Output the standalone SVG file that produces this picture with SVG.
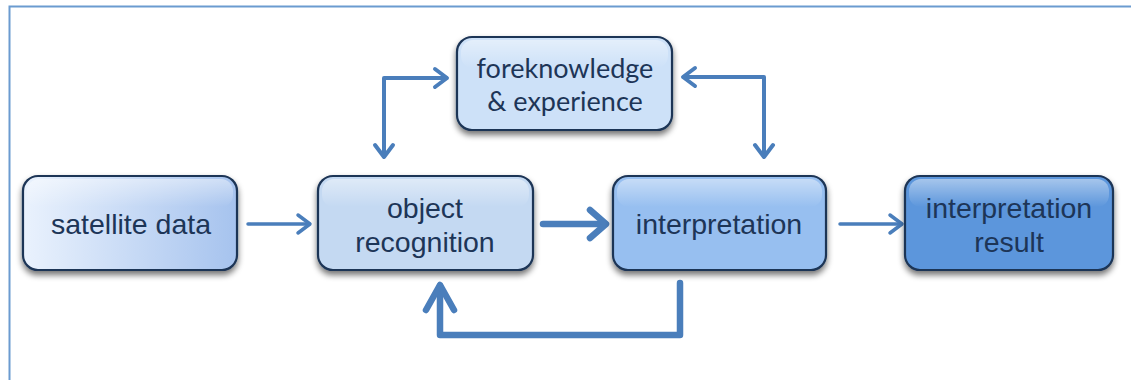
<svg xmlns="http://www.w3.org/2000/svg" width="1131" height="380" viewBox="0 0 1131 380">
  <style>
    .box { stroke: #1e3657; stroke-width: 2.2; filter: url(#shadow); }
    .gloss { fill: url(#gloss); stroke: none; }
    .lbl { font-family: "Liberation Sans", Arial, sans-serif; font-size: 28.5px; fill: #1d3557; text-anchor: middle; }
    .lbl2 { font-family: Lato, "Open Sans", sans-serif; font-size: 27px; fill: #1d3557; text-anchor: middle; }
    .conn { fill: none; stroke: #4a7ebb; stroke-linecap: round; stroke-linejoin: round; }
    .thin { stroke-width: 3.5; }
    .thick { stroke-width: 6.5; }
  </style>
  <defs>
    <filter id="shadow" x="-10%" y="-10%" width="120%" height="135%">
      <feGaussianBlur in="SourceAlpha" stdDeviation="3"/>
      <feOffset dx="0" dy="4" result="b"/>
      <feComponentTransfer><feFuncA type="linear" slope="0.55"/></feComponentTransfer>
      <feMerge><feMergeNode/><feMergeNode in="SourceGraphic"/></feMerge>
    </filter>
    <linearGradient id="satFill" x1="0" y1="0" x2="1" y2="0">
      <stop offset="0" stop-color="#eaf2fd"/>
      <stop offset="1" stop-color="#a6c3ee"/>
    </linearGradient>
    <linearGradient id="gloss" x1="0" y1="0" x2="0" y2="1">
      <stop offset="0" stop-color="#ffffff" stop-opacity="0.45"/>
      <stop offset="1" stop-color="#ffffff" stop-opacity="0"/>
    </linearGradient>
  </defs>

  <!-- outer frame -->
  <rect x="9.5" y="6.5" width="1200" height="420" fill="none" stroke="#6b9bd0" stroke-width="2"/>

  <g id="connectors">
    <!-- satellite data -> object recognition -->
    <path class="conn thin" d="M248 224 H309"/>
    <path class="conn thin" d="M298 215 L310 224 L298 233"/>
    <!-- object recognition -> interpretation -->
    <path class="conn thick" d="M543 224 H604"/>
    <path class="conn thick" d="M590 210 L606 224 L590 238"/>
    <!-- interpretation -> interpretation result -->
    <path class="conn thin" d="M840 224 H901"/>
    <path class="conn thin" d="M890 215 L902 224 L890 233"/>
    <!-- object recognition <-> foreknowledge -->
    <path class="conn" stroke-width="4" d="M384 156 V78 H446"/>
    <path class="conn" stroke-width="4" d="M375 145 L384 157 L393 145"/>
    <path class="conn" stroke-width="4" d="M435 69 L447 78 L435 87"/>
    <!-- foreknowledge <-> interpretation -->
    <path class="conn" stroke-width="4" d="M684 77 H764 V156"/>
    <path class="conn" stroke-width="4" d="M695 68 L683 77 L695 86"/>
    <path class="conn" stroke-width="4" d="M755 145 L764 157 L773 145"/>
    <!-- feedback loop interpretation -> object recognition -->
    <path class="conn thick" d="M680 283 V335 H440 V286"/>
    <path class="conn thick" d="M426 310 L440 285 L454 310"/>
  </g>

  <g id="satellite-data">
    <rect class="box" x="23" y="176" width="214" height="94" rx="15" fill="url(#satFill)"/>
    <rect class="gloss" x="27" y="179" width="206" height="28" rx="12"/>
    <text class="lbl" x="131" y="234">satellite data</text>
  </g>

  <g id="object-recognition">
    <rect class="box" x="318" y="176" width="215" height="94" rx="15" fill="#c4d9f2"/>
    <rect class="gloss" x="322" y="179" width="207" height="28" rx="12"/>
    <text class="lbl" x="425" y="218">object</text>
    <text class="lbl" x="425" y="252">recognition</text>
  </g>

  <g id="foreknowledge">
    <rect class="box" x="457" y="37" width="215" height="93" rx="15" fill="#cde1f8"/>
    <rect class="gloss" x="461" y="40" width="207" height="28" rx="12"/>
    <text class="lbl2" x="565" y="78">foreknowledge</text>
    <text class="lbl2" x="565" y="111">&amp; experience</text>
  </g>

  <g id="interpretation">
    <rect class="box" x="613" y="176" width="213" height="94" rx="15" fill="#97bff0"/>
    <rect class="gloss" x="617" y="179" width="205" height="28" rx="12"/>
    <text class="lbl" x="719" y="234">interpretation</text>
  </g>

  <g id="interpretation-result">
    <rect class="box" x="905" y="176" width="208" height="94" rx="15" fill="#5b96dc"/>
    <rect class="gloss" x="909" y="179" width="200" height="28" rx="12"/>
    <text class="lbl" x="1009" y="218">interpretation</text>
    <text class="lbl" x="1009" y="252">result</text>
  </g>
</svg>
